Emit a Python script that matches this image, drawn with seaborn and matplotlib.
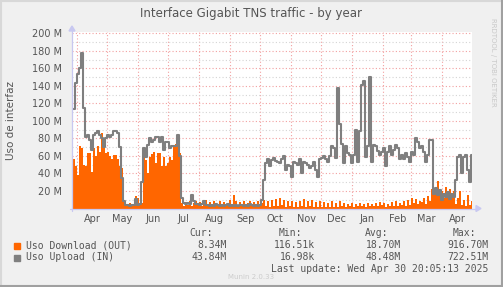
import numpy as np
import pandas as pd
import matplotlib
matplotlib.use("Agg")
import matplotlib.pyplot as plt
import seaborn as sns
from matplotlib.patches import Rectangle
from matplotlib.lines import Line2D

# ---------------- data (values in M, one sample per 2 days) ----------------
upload_in = [114,143,154,160,178,115,82,84,78,67,84,86,88,84,80,70,80,84,82,84,88,89,86,70,35,
             8,4,4,3,4,4,11,4,5,30,
             69,59,72,80,76,78,82,82,76,82,67,76,76,69,71,71,71,84,60,12,
             6,5,6,5,15,8,5,5,4,5,8,4,
             4,3,4,3,5,4,3,4,3,4,5,3,4,3,4,3,4,4,3,4,3,5,4,3,4,3,4,
             10,33,52,56,48,55,58,54,53,52,57,60,44,50,48,36,53,52,50,56,40,53,52,50,46,48,53,44,36,56,58,60,56,53,60,71,69,58,
             137,97,74,52,71,63,61,52,61,90,53,88,141,145,59,71,150,53,72,71,66,61,64,69,48,65,71,61,67,72,69,56,61,56,63,59,53,65,61,80,76,69,71,65,53,61,78,78,
             17,23,15,21,10,17,13,19,11,17,13,32,59,61,40,59,61,44,30,61]
download_out = [57,48,38,71,69,50,48,63,63,42,69,60,71,65,86,74,63,65,60,56,61,61,56,48,46,
                8,5,3,6,4,5,14,12,4,6,
                63,55,40,59,62,65,52,63,63,48,59,48,52,59,55,71,74,80,63,6,
                3,7,4,8,3,6,9,4,7,3,6,10,
                4,7,3,8,5,3,9,4,7,3,6,10,4,15,9,4,7,3,8,4,6,9,3,7,4,8,3,
                6,10,3,9,2,10,3,11,3,12,4,10,2,9,3,8,2,7,2,9,3,11,2,8,3,10,2,7,2,8,2,7,2,6,2,8,2,6,
                2,8,3,6,2,5,3,6,2,5,3,6,3,5,2,6,3,5,3,6,3,7,4,6,2,5,3,7,3,8,3,6,4,9,3,10,4,12,6,11,5,9,7,12,5,14,8,22,
                18,24,31,15,20,12,24,16,22,14,20,5,12,20,4,10,3,15,4,8]
dates = pd.date_range("2024-03-27 20:00", periods=len(upload_in), freq="2D")
month_labels = ["Apr", "May", "Jun", "Jul", "Aug", "Sep", "Oct", "Nov", "Dec", "Jan", "Feb", "Mar", "Apr"]
y_ticks = [0, 20, 40, 60, 80, 100, 120, 140, 160, 180, 200]
y_labels = ["", "20 M", "40 M", "60 M", "80 M", "100 M", "120 M", "140 M", "160 M", "180 M", "200 M"]
legend_names = ["Uso Download (OUT)", "Uso Upload (IN)"]
stats_cur = ["8.34M", "43.84M"]
stats_min = ["116.51k", "16.98k"]
stats_avg = ["18.70M", "48.48M"]
stats_max = ["916.70M", "722.51M"]

start = pd.Timestamp("2024-03-26 20:05")
end = pd.Timestamp("2025-04-30 20:05")

# ---------------- styling ----------------
sns.set_theme(style="white")
plt.rcParams["font.family"] = ["DejaVu Sans"]

W, H = 503, 287
BG = "#F0F0F0"
TXT = "#555555"
ORANGE = "#FF6600"
GRAY = "#7F7F7F"

fig = plt.figure(figsize=(W / 100, H / 100), dpi=100, facecolor=BG)
ax = fig.add_axes([72 / W, (H - 208.5) / H, 400 / W, (208.5 - 32) / H])
ax.set_facecolor("white")

# extend last sample to the end for step drawing
df = pd.DataFrame({"date": list(dates) + [end],
                   "out": download_out + [download_out[-1]],
                   "inn": upload_in + [upload_in[-1]]})

ax.fill_between(df["date"], df["out"], step="post", color=ORANGE, lw=0, zorder=2)
sns.lineplot(data=df, x="date", y="inn", ax=ax, color=GRAY, lw=1.5,
             drawstyle="steps-post", zorder=3)

ax.set_xlim(start, end)
ax.set_ylim(0, (208.5 - 32) / 175.2 * 200)

# x grid/ticks at month starts, labels at mid-month
month_starts = pd.date_range("2024-04-01", "2025-04-01", freq="MS")
ax.set_xticks(month_starts)
ax.set_xticklabels([""] * len(month_starts))
ax.set_xticks(month_starts + pd.Timedelta(days=15), minor=True)
ax.set_xticklabels(month_labels, minor=True)
ax.tick_params(axis="x", which="minor", length=0, pad=4, labelsize=7, labelcolor=TXT)
ax.tick_params(axis="x", which="major", length=2, color="#F0A0A0", direction="out")

ax.set_yticks(y_ticks)
ax.set_yticklabels(y_labels)
ax.set_yticks(np.arange(10, 200, 20), minor=True)
ax.tick_params(axis="y", which="major", length=2, color="#E0E0E0", pad=5, labelsize=7, labelcolor=TXT)
ax.tick_params(axis="y", which="minor", length=0)

ax.grid(which="major", axis="both", color="#F2A0A0", ls=(0, (1, 2)), lw=0.8, zorder=1)
ax.grid(which="minor", axis="y", color="#D4D4D4", ls=(0, (1, 2)), lw=0.8, zorder=1)
ax.grid(which="minor", axis="x", visible=False)
ax.set_axisbelow(True)
for s in ax.spines.values():
    s.set_visible(False)
ax.set_xlabel("")
ax.set_ylabel("")
fig.text(11 / W, 1 - 120 / H, "Uso de interfaz", rotation=90, ha="center", va="center",
         fontsize=7.5, color=TXT)

# axis lines with arrows
axc = "#C8C8F0"
fig.add_artist(Line2D([70 / W, 476 / W], [1 - 208.5 / H, 1 - 208.5 / H], color=axc, lw=0.9))
fig.add_artist(Line2D([72 / W, 72 / W], [1 - 211 / H, 1 - 30 / H], color=axc, lw=0.9))
fig.add_artist(matplotlib.patches.Polygon([[476 / W, 1 - 205.5 / H], [481 / W, 1 - 208.5 / H], [476 / W, 1 - 211.5 / H]],
                                          closed=True, color=axc, transform=fig.transFigure))
fig.add_artist(matplotlib.patches.Polygon([[69 / W, 1 - 31 / H], [72 / W, 1 - 26 / H], [75 / W, 1 - 31 / H]],
                                          closed=True, color=axc, transform=fig.transFigure))

# title
fig.text(250.5 / W, 1 - 14 / H, "Interface Gigabit TNS traffic - by year",
         ha="center", va="center", fontsize=8.5, color=TXT)

# right side vendor text
fig.text(493 / W, 1 - 18 / H, "RRDTOOL / TOBI OETIKER", rotation=270, ha="center", va="top",
         fontsize=5, color="#C8C8C8")

# legend
mono = "DejaVu Sans Mono"
fs = 7
def fy(py):
    return 1 - py / H

fig.text(213 / W, fy(233.5), "Cur:", ha="right", va="center", family=mono, fontsize=fs, color=TXT)
fig.text(302 / W, fy(233.5), "Min:", ha="right", va="center", family=mono, fontsize=fs, color=TXT)
fig.text(388 / W, fy(233.5), "Avg:", ha="right", va="center", family=mono, fontsize=fs, color=TXT)
fig.text(476 / W, fy(233.5), "Max:", ha="right", va="center", family=mono, fontsize=fs, color=TXT)
rows = [245.5, 257.5]
for i, (name, col) in enumerate(zip(legend_names, [ORANGE, GRAY])):
    py = rows[i]
    fig.add_artist(Rectangle((14 / W, fy(py + 3)), 6 / W, 6 / H, color=col, transform=fig.transFigure))
    fig.text(26.5 / W, fy(py), name, ha="left", va="center", family=mono, fontsize=fs, color=TXT)
    fig.text(226.5 / W, fy(py), stats_cur[i], ha="right", va="center", family=mono, fontsize=fs, color=TXT)
    fig.text(315 / W, fy(py), stats_min[i], ha="right", va="center", family=mono, fontsize=fs, color=TXT)
    fig.text(401 / W, fy(py), stats_avg[i], ha="right", va="center", family=mono, fontsize=fs, color=TXT)
    fig.text(488 / W, fy(py), stats_max[i], ha="right", va="center", family=mono, fontsize=fs, color=TXT)
fig.text(488 / W, fy(269.5), "Last update: Wed Apr 30 20:05:13 2025", ha="right", va="center",
         family=mono, fontsize=fs, color=TXT)
fig.text(251.5 / W, fy(277), "Munin 2.0.33", ha="center", va="center", fontsize=5, color="#CCCCCC")

# border
fig.add_artist(Line2D([0.5 / W, 0.5 / W], [0, 1], color="#D8D8D8", lw=1.5))
fig.add_artist(Line2D([0, 1], [1 - 0.5 / H, 1 - 0.5 / H], color="#D8D8D8", lw=1.5))
fig.add_artist(Line2D([1 - 0.7 / W, 1 - 0.7 / W], [0, 1], color="#A0A0A0", lw=1.5))
fig.add_artist(Line2D([0, 1], [0.7 / H, 0.7 / H], color="#A0A0A0", lw=1.5))

fig.savefig("out.png", dpi=100, facecolor=BG)
